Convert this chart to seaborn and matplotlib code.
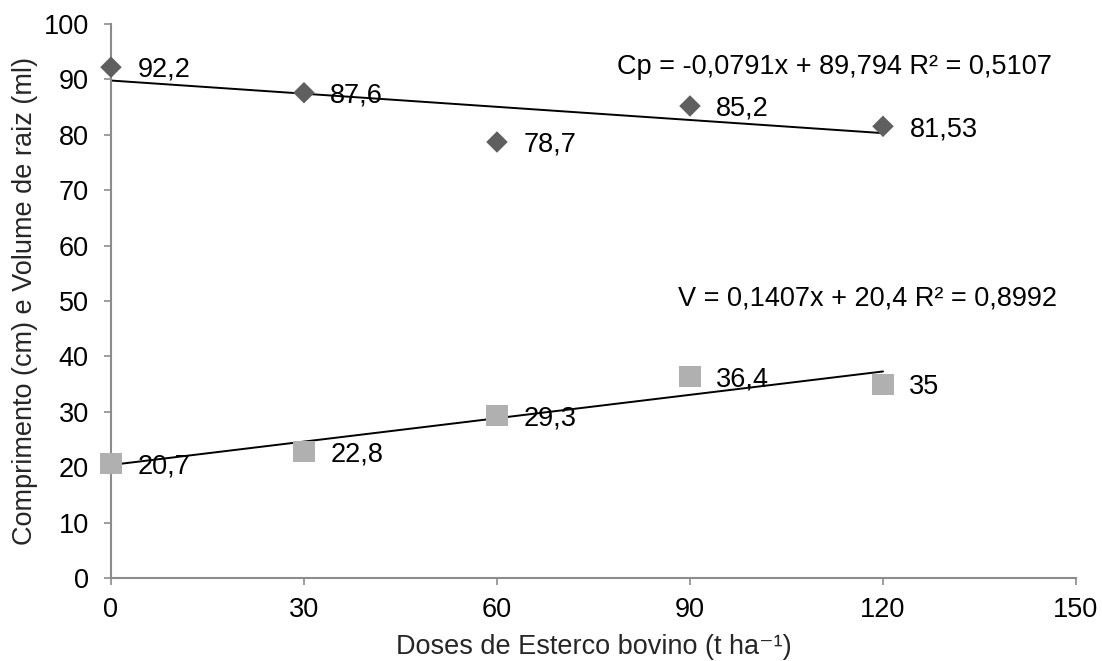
import matplotlib
matplotlib.use("Agg")
import matplotlib.pyplot as plt
import seaborn as sns
import pandas as pd

# Doses of cattle manure (t/ha) and root measurements
doses = [0, 30, 60, 90, 120]
comprimento = [92.2, 87.6, 78.7, 85.2, 81.53]
volume = [20.7, 22.8, 29.3, 36.4, 35.0]
rotulos_cp = ["92,2", "87,6", "78,7", "85,2", "81,53"]
rotulos_v = ["20,7", "22,8", "29,3", "36,4", "35"]
eq_cp = "Cp = -0,0791x + 89,794 R² = 0,5107"
eq_v = "V = 0,1407x + 20,4 R² = 0,8992"
x_ticks = [0, 30, 60, 90, 120, 150]
y_ticks = list(range(0, 101, 10))

df = pd.DataFrame({"dose": doses, "cp": comprimento, "v": volume})

sns.set_theme(style="white")
plt.rcParams["font.family"] = ["Liberation Sans", "DejaVu Sans"]

FS = 19.5

fig = plt.figure(figsize=(11.02, 6.61), dpi=100)
ax = fig.add_axes([0.1007, 0.1256, 0.8757, 0.8381])

# Linear trend lines
sns.regplot(data=df, x="dose", y="cp", scatter=False, ci=None, truncate=True,
            line_kws={"color": "black", "lw": 1.4}, ax=ax)
sns.regplot(data=df, x="dose", y="v", scatter=False, ci=None, truncate=True,
            line_kws={"color": "black", "lw": 1.4}, ax=ax)

# Data points
sns.scatterplot(data=df, x="dose", y="cp", marker="D", s=120, color="#5f5f5f",
                edgecolor="none", ax=ax, zorder=3, clip_on=False)
sns.scatterplot(data=df, x="dose", y="v", marker="s", s=230, color="#b0b0b0",
                edgecolor="none", ax=ax, zorder=3, clip_on=False)

for xv, yv, t in zip(doses, comprimento, rotulos_cp):
    ax.annotate(t, (xv, yv), xytext=(19, -2), textcoords="offset points",
                ha="left", va="center", fontsize=FS, color="black", zorder=4)
for xv, yv, t in zip(doses, volume, rotulos_v):
    ax.annotate(t, (xv, yv), xytext=(19, -2), textcoords="offset points",
                ha="left", va="center", fontsize=FS, color="black", zorder=4)

ax.text(146.3, 92.2, eq_cp, ha="right", va="center", fontsize=FS, color="black")
ax.text(147.0, 50.5, eq_v, ha="right", va="center", fontsize=FS, color="black")

ax.set_xlim(0, 150)
ax.set_ylim(0, 100)
ax.set_xticks(x_ticks)
ax.set_yticks(y_ticks)
ax.tick_params(axis="both", which="major", direction="out", length=5, width=1.2,
               color="#8c8c8c", labelsize=FS, labelcolor="black",
               bottom=True, left=True)
ax.tick_params(axis="x", pad=9)
ax.tick_params(axis="y", pad=11)

for side in ["top", "right"]:
    ax.spines[side].set_visible(False)
for side in ["left", "bottom"]:
    ax.spines[side].set_color("#8c8c8c")
    ax.spines[side].set_linewidth(1.5)

ax.set_xlabel("Doses de Esterco bovino (t ha⁻¹)", fontsize=FS, va="center")
ax.xaxis.set_label_coords(0.5, -0.1245)
ax.set_ylabel("Comprimento (cm) e Volume de raiz (ml)", fontsize=FS,
              va="center", ha="center")
ax.yaxis.set_label_coords(-0.089, 0.5)

fig.savefig("out.png", dpi=100)
